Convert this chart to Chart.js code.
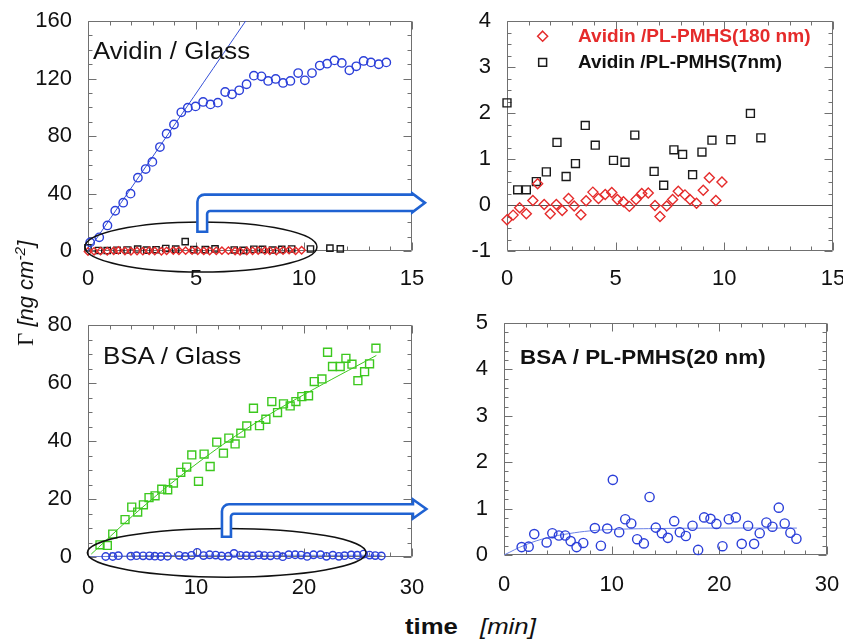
<!DOCTYPE html>
<html>
<head>
<meta charset="utf-8">
<script src="https://cdn.jsdelivr.net/npm/chart.js@4.4.0/dist/chart.umd.min.js"></script>
<style>
  html, body { margin: 0; padding: 0; background: #fff; }
  body { position: relative; width: 843px; height: 640px; overflow: hidden; font-family: "Liberation Sans", Arial, sans-serif; color: #111; }
  canvas { position: absolute; }
  .lbl { position: absolute; white-space: nowrap; line-height: 1; transform-origin: 0 0; }
</style>
</head>
<body>
<!-- canvases are a bit larger than their panels so the chart area lands where it should -->
<canvas id="avGlass" width="460" height="320" style="left:0;top:-20px"></canvas>
<canvas id="avPl" width="440" height="320" style="left:430px;top:-20px"></canvas>
<canvas id="bsaGlass" width="460" height="320" style="left:0;top:280px"></canvas>
<canvas id="bsaPl" width="440" height="320" style="left:430px;top:280px"></canvas>

<div class="lbl" style="left:93px;top:40px;font-size:23px;transform:scaleX(1.12)">Avidin / Glass</div>
<div class="lbl" style="left:103px;top:344px;font-size:24px;transform:scaleX(1.08)">BSA / Glass</div>
<div class="lbl" style="left:520px;top:347px;font-size:20px;font-weight:bold;transform:scaleX(1.12)">BSA / PL-PMHS(20 nm)</div>
<div class="lbl" style="left:578px;top:27px;font-size:18px;font-weight:bold;color:#e52b2b;transform:scaleX(1.06)">Avidin /PL-PMHS(180 nm)</div>
<div class="lbl" style="left:578px;top:53px;font-size:18px;font-weight:bold;transform:scaleX(1.05)">Avidin /PL-PMHS(7nm)</div>
<div class="lbl" style="left:405px;top:616px;font-size:22px;font-weight:bold;transform:scaleX(1.17)">time</div>
<div class="lbl" style="left:480px;top:616px;font-size:22px;font-style:italic;transform:scaleX(1.17)">[min]</div>
<div class="lbl" style="left:14px;top:346px;font-size:22px;transform:rotate(-90deg)"><span style="font-family:'Liberation Serif',serif;font-size:23px">Γ</span> <i>[ng cm<span style="font-size:0.7em;position:relative;top:-0.55em">-2</span>]</i></div>

<script>
// Avidin / Glass, blue circles (top left)
const avGlassX = [0.1, 0.52, 0.9, 1.26, 1.63, 1.97, 2.31, 2.67, 2.98, 3.33, 3.64, 3.98, 4.32, 4.62, 4.98, 5.33, 5.67, 6.01, 6.35, 6.67,
  7.0, 7.34, 7.68, 8.03, 8.34, 8.69, 9.03, 9.37, 9.73, 10.04, 10.37, 10.73, 11.07, 11.41, 11.75, 12.1, 12.42, 12.76, 13.1, 13.46, 13.81]
const avGlassY = [6, 9.5, 17.8, 28, 33.6, 39.9, 51, 57, 62, 72.3, 81.6, 88, 96.5, 99.7, 100.6, 103.7, 102, 103.2, 110.6, 109,
  111.8, 116, 122, 121.5, 118.3, 119.7, 116.9, 118.3, 123.8, 118.7, 123.8, 129, 130.3, 132.6, 130.8, 125.7, 128.5, 132.2, 131.2, 129.9, 131.2]

// Avidin / PL-PMHS(180 nm), red diamonds
const av180X = [0, 0.28, 0.58, 0.89, 1.19, 1.41, 1.71, 1.99, 2.27, 2.54, 2.83, 3.09, 3.4, 3.64, 3.95, 4.21, 4.52, 4.82,
  5.08, 5.36, 5.63, 5.94, 6.2, 6.5, 6.81, 7.04, 7.35, 7.62, 7.88, 8.19, 8.42, 8.72, 9.03, 9.31, 9.61, 9.89]
const av180Y = [-0.32, -0.22, -0.06, -0.19, 0.1, 0.46, 0.01, -0.19, 0.01, -0.12, 0.14, -0.02, -0.21, 0.09, 0.28, 0.14, 0.23, 0.27,
  0.12, 0.07, -0.03, 0.12, 0.25, 0.26, -0.01, -0.25, -0.02, 0.12, 0.3, 0.22, 0.12, 0.04, 0.32, 0.59, 0.1, 0.5]

// Avidin / PL-PMHS(7nm), black squares
const av7X = [0, 0.49, 0.89, 1.35, 1.81, 2.3, 2.72, 3.15, 3.6, 4.06, 4.9, 5.43, 5.88, 6.77, 7.21, 7.68, 8.08, 8.54, 8.97, 9.43, 10.3, 11.2, 11.68]
const av7Y = [2.22, 0.33, 0.33, 0.51, 0.72, 1.36, 0.62, 0.9, 1.73, 1.3, 0.97, 0.93, 1.52, 0.73, 0.43, 1.2, 1.1, 0.66, 1.15, 1.41, 1.42, 1.99, 1.46]
// one more square only seen in the glass panel
const av7ExtraX = [4.5]
const av7ExtraY = [6.5]

// BSA / Glass, green squares
const bsaGlassX = [1.11, 1.79, 2.29, 3.43, 4.05, 4.6, 5.13, 5.65, 6.21, 6.83, 7.38, 7.91, 8.59, 9.14, 9.61, 10.23, 10.75, 11.31, 11.92, 12.54,
  13.04, 13.62, 14.15, 14.7, 15.32, 15.88, 16.47, 17.02, 17.55, 18.1, 18.72, 19.25, 19.8, 20.42, 20.95, 21.66, 22.18, 22.64, 23.35, 23.88,
  24.44, 24.99, 25.61, 26.07, 26.66]
const bsaGlassY = [4.2, 4.0, 7.9, 12.9, 17.2, 15.5, 18.0, 20.5, 21.1, 23.4, 23.2, 25.5, 29.2, 31.0, 35.2, 26.1, 35.5, 31.2, 39.6, 35.8,
  41.0, 39.0, 42.7, 45.2, 51.3, 45.3, 47.5, 53.6, 49.8, 52.8, 52.1, 53.6, 55.3, 55.6, 60.5, 61.4, 70.6, 65.7, 65.7, 68.5,
  66.5, 60.8, 63.9, 66.6, 72.0]

// BSA / PL-PMHS(20 nm), blue circles
const bsaPlX = [1.64, 2.29, 2.81, 3.96, 4.49, 5.1, 5.69, 6.19, 6.74, 7.36, 8.44, 9.0, 9.59, 10.11, 10.7, 11.26, 11.82, 12.37, 12.99, 13.52,
  14.1, 14.66, 15.22, 15.81, 16.33, 16.89, 17.51, 18.03, 18.59, 19.18, 19.73, 20.29, 20.88, 21.53, 22.08, 22.67, 23.23, 23.75, 24.37, 24.93,
  25.52, 26.07, 26.6, 27.16]
const bsaPlY = [0.17, 0.18, 0.45, 0.27, 0.47, 0.42, 0.42, 0.3, 0.17, 0.26, 0.58, 0.2, 0.57, 1.62, 0.49, 0.77, 0.68, 0.34, 0.25, 1.25,
  0.59, 0.47, 0.37, 0.73, 0.49, 0.41, 0.63, 0.11, 0.81, 0.78, 0.67, 0.19, 0.77, 0.81, 0.24, 0.63, 0.24, 0.47, 0.7, 0.61,
  1.02, 0.68, 0.48, 0.35]

// fitted lines, as drawn
const avGlassFitX = [0, 7.3]
const avGlassFitY = [0, 160]
const bsaGlassFitX = [0.3, 5, 10, 15, 20, 26.7]
const bsaGlassFitY = [1, 17, 32, 45, 56, 69.5]
const bsaPlFitX = [0, 2, 4, 6, 8, 10, 14, 20, 27.2]
const bsaPlFitY = [0, 0.22, 0.37, 0.46, 0.52, 0.55, 0.57, 0.58, 0.58]

// tick labels
const avTimeTicks = [0, 5, 10, 15]
const bsaTimeTicks = [0, 10, 20, 30]
const avGlassTicks = [0, 40, 80, 120, 160]
const avPlTicks = [-1, 0, 1, 2, 3, 4]
const bsaGlassTicks = [0, 20, 40, 60, 80]
const bsaPlTicks = [0, 1, 2, 3, 4, 5]

const BLUE = '#2b3fd9'
const RED = '#e52b2b'
const GREEN = '#3cc81e'
const BLACK = '#1a1a1a'
const ARROW = '#1f62d2'

const pts = (xs, ys) => xs.map((x, i) => ({ x, y: ys[i] }))

const marks = (data, style, color, r) => ({
  data, showLine: false, clip: false,
  pointStyle: style, pointRadius: r,
  pointBorderColor: color, pointBackgroundColor: 'rgba(0,0,0,0)', pointBorderWidth: 1.4,
})
const fit = (data, color) => ({
  data, showLine: true, borderColor: color, borderWidth: 1,
  pointRadius: 0, tension: 0.4, fill: false,
})

const isMajor = (v, step) => Math.abs(v / step - Math.round(v / step)) < 1e-6

// box frame with inward ticks on all four sides
const frame = {
  id: 'frame',
  beforeDatasetsDraw(chart, args, o) {
    const { ctx, chartArea: a, scales: { x, y } } = chart
    const L = Math.round(a.left) + 0.5, R = Math.round(a.right) - 0.5
    const T = Math.round(a.top) + 0.5, B = Math.round(a.bottom) - 0.5
    ctx.save()
    ctx.strokeStyle = '#707070'
    ctx.lineWidth = 1
    ctx.beginPath()
    ctx.rect(L, T, R - L, B - T)
    const nx = Math.round((x.max - x.min) / o.xMinor)
    for (let i = 0; i <= nx; i++) {
      const v = x.min + i * o.xMinor
      const len = isMajor(v, o.xMajor) ? 8 : 4
      const p = Math.round(x.getPixelForValue(v)) + 0.5
      ctx.moveTo(p, B); ctx.lineTo(p, B - len)
      ctx.moveTo(p, T); ctx.lineTo(p, T + len)
    }
    const ny = Math.round((y.max - y.min) / o.yMinor)
    for (let i = 0; i <= ny; i++) {
      const v = y.min + i * o.yMinor
      const len = isMajor(v, o.yMajor) ? 8 : 4
      const p = Math.round(y.getPixelForValue(v)) + 0.5
      ctx.moveTo(L, p); ctx.lineTo(L + len, p)
      ctx.moveTo(R, p); ctx.lineTo(R - len, p)
    }
    ctx.stroke()
    if (o.zero) {
      const p = Math.round(y.getPixelForValue(0)) + 0.5
      ctx.strokeStyle = '#555'
      ctx.beginPath(); ctx.moveTo(L, p); ctx.lineTo(R, p); ctx.stroke()
    }
    ctx.restore()
  },
}

// ellipse + bent arrow on the glass panels, legend marks on the avidin PL panel
const notes = {
  id: 'notes',
  afterDatasetsDraw(chart, args, o) {
    const { ctx, scales: { x, y } } = chart
    ctx.save()
    if (o.ellipse) {
      const e = o.ellipse
      const cx = x.getPixelForValue(e.x), cy = y.getPixelForValue(e.y)
      const rx = Math.abs(x.getPixelForValue(e.x + e.rx) - cx)
      const ry = Math.abs(y.getPixelForValue(e.y + e.ry) - cy)
      ctx.beginPath()
      ctx.ellipse(cx, cy, rx, ry, 0, 0, Math.PI * 2)
      ctx.strokeStyle = '#111'
      ctx.lineWidth = 1.5
      ctx.stroke()
    }
    if (o.arrow) {
      const w = o.arrow
      const lx = x.getPixelForValue(w.legX), by = y.getPixelForValue(w.legY)
      const my = y.getPixelForValue(w.bandY), tx = x.getPixelForValue(w.tipX)
      const L = lx - w.legW / 2, R = lx + w.legW / 2
      const T = my - w.bandH / 2, B = my + w.bandH / 2
      const hx = tx - w.headL
      ctx.beginPath()
      ctx.moveTo(L, by)
      ctx.lineTo(L, T + w.r1)
      ctx.arcTo(L, T, L + w.r1, T, w.r1)
      ctx.lineTo(hx, T)
      ctx.lineTo(hx, my - w.headH)
      ctx.lineTo(tx, my)
      ctx.lineTo(hx, my + w.headH)
      ctx.lineTo(hx, B)
      ctx.lineTo(R + w.r2, B)
      ctx.arcTo(R, B, R, B + w.r2, w.r2)
      ctx.lineTo(R, by)
      ctx.closePath()
      ctx.fillStyle = '#fff'
      ctx.fill()
      ctx.strokeStyle = ARROW
      ctx.lineWidth = 2.6
      ctx.lineJoin = 'miter'
      ctx.stroke()
    }
    if (o.keys) {
      ctx.lineWidth = 1.5
      for (const k of o.keys) {
        const px = x.getPixelForValue(k.x), py = y.getPixelForValue(k.y)
        ctx.strokeStyle = k.color
        ctx.beginPath()
        if (k.style === 'rectRot') {
          ctx.moveTo(px, py - k.r); ctx.lineTo(px + k.r, py); ctx.lineTo(px, py + k.r); ctx.lineTo(px - k.r, py)
        } else {
          const s = k.r * Math.SQRT1_2
          ctx.rect(px - s, py - s, 2 * s, 2 * s)
        }
        ctx.closePath()
        ctx.stroke()
      }
    }
    ctx.restore()
  },
}

const tickFont = { family: "'Liberation Sans', Arial, sans-serif", size: 22 }

// box: chart area edges in canvas pixels
function makeChart(id, cfg) {
  const el = document.getElementById(id)
  const { xTicks, yTicks, box } = cfg
  return new Chart(el, {
    type: 'scatter',
    data: { datasets: cfg.datasets },
    options: {
      responsive: false,
      animation: false,
      devicePixelRatio: 1,
      events: [],
      layout: { padding: { left: 0, top: box.top, right: el.width - box.right, bottom: 0 } },
      plugins: {
        legend: { display: false },
        tooltip: { enabled: false },
        frame: { xMajor: xTicks[1] - xTicks[0], xMinor: cfg.xMinor, yMajor: yTicks[1] - yTicks[0], yMinor: cfg.yMinor, zero: cfg.zero },
        notes: { ellipse: cfg.ellipse, arrow: cfg.arrow, keys: cfg.keys },
      },
      scales: {
        x: {
          type: 'linear', min: xTicks[0], max: xTicks[xTicks.length - 1],
          afterFit: s => { s.height = el.height - box.bottom },
          grid: { display: false, drawTicks: false },
          border: { display: false },
          ticks: { stepSize: xTicks[1] - xTicks[0], autoSkip: false, maxRotation: 0, padding: box.xPad, font: tickFont, color: '#111' },
        },
        y: {
          type: 'linear', min: yTicks[0], max: yTicks[yTicks.length - 1],
          afterFit: s => { s.width = box.left },
          grid: { display: false, drawTicks: false },
          border: { display: false },
          ticks: { stepSize: yTicks[1] - yTicks[0], autoSkip: false, padding: 16, font: tickFont, color: '#111' },
        },
      },
    },
    plugins: [frame, notes],
  })
}

makeChart('avGlass', {
  xTicks: avTimeTicks, yTicks: avGlassTicks, xMinor: 1, yMinor: 10,
  box: { left: 88, top: 41, right: 412, bottom: 271, xPad: 15 },
  datasets: [
    marks(pts(avGlassX, avGlassY), 'circle', BLUE, 4.2),
    fit(pts(avGlassFitX, avGlassFitY), '#3550d8'),
    marks(pts(av180X, av180Y), 'rectRot', RED, 3.7),
    marks(pts(av7X, av7Y), 'rect', BLACK, 4.4),
    marks(pts(av7ExtraX, av7ExtraY), 'rect', BLACK, 4.4),
  ],
  ellipse: { x: 5.23, y: 2.8, rx: 5.37, ry: 17.4 },
  arrow: { legX: 5.29, legY: 13.4, bandY: 33.5, tipX: 15.6, legW: 9.7, bandH: 16.4, headL: 12.7, headH: 9.5, r1: 7, r2: 3 },
})

makeChart('avPl', {
  xTicks: avTimeTicks, yTicks: avPlTicks, xMinor: 1, yMinor: 0.25, zero: true,
  box: { left: 77, top: 41, right: 403, bottom: 271, xPad: 15 },
  datasets: [
    marks(pts(av180X, av180Y), 'rectRot', RED, 5),
    marks(pts(av7X, av7Y), 'rect', BLACK, 5.6),
  ],
  keys: [
    { x: 1.64, y: 3.67, style: 'rectRot', color: RED, r: 5 },
    { x: 1.64, y: 3.1, style: 'rect', color: BLACK, r: 5.6 },
  ],
})

makeChart('bsaGlass', {
  xTicks: bsaTimeTicks, yTicks: bsaGlassTicks, xMinor: 2, yMinor: 5,
  box: { left: 88, top: 45, right: 412, bottom: 277, xPad: 18 },
  datasets: [
    marks(pts(bsaPlX, bsaPlY), 'circle', BLUE, 3.7),
    fit(pts(bsaPlFitX, bsaPlFitY), '#6a80e6'),
    marks(pts(bsaGlassX, bsaGlassY), 'rect', GREEN, 5.6),
    fit(pts(bsaGlassFitX, bsaGlassFitY), GREEN),
  ],
  ellipse: { x: 12.84, y: 1.45, rx: 12.9, ry: 8.4 },
  arrow: { legX: 12.82, legY: 7.0, bandY: 16.55, tipX: 31.33, legW: 9, bandH: 9.4, headL: 13.4, headH: 9.5, r1: 7, r2: 3 },
})

makeChart('bsaPl', {
  xTicks: bsaTimeTicks, yTicks: bsaPlTicks, xMinor: 2, yMinor: 0.2,
  box: { left: 74, top: 43, right: 397, bottom: 275, xPad: 17 },
  datasets: [
    marks(pts(bsaPlX, bsaPlY), 'circle', BLUE, 4.6),
    fit(pts(bsaPlFitX, bsaPlFitY), '#6a80e6'),
  ],
})
</script>
</body>
</html>
